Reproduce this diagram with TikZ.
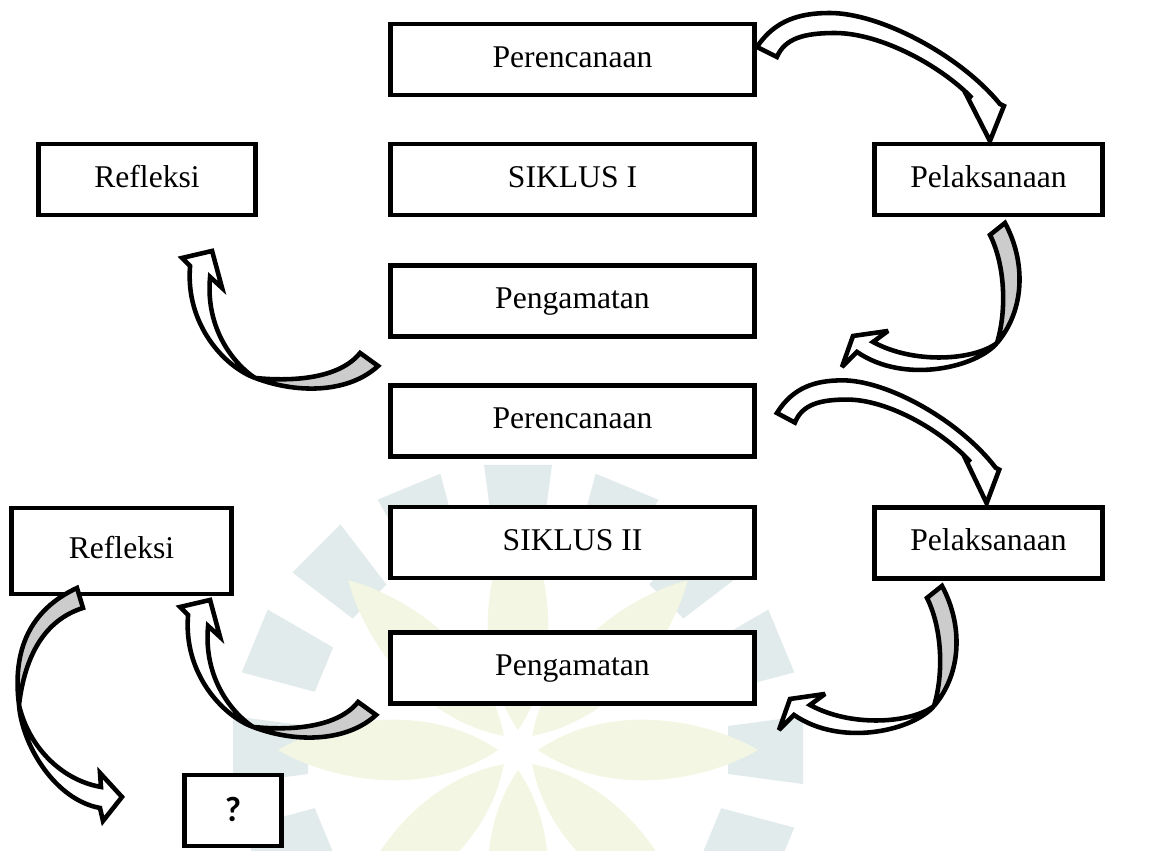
\documentclass[tikz,border=0pt]{standalone}
\usepackage{fontspec}
\setmainfont{Liberation Serif}
\newfontfamily\qmarkfont{Carlito}
\usetikzlibrary{calc}
\definecolor{wmBlue}{RGB}{226, 235, 235}
\definecolor{wmYellow}{RGB}{243, 246, 226}

\begin{document}
\begin{tikzpicture}[
        x=0.02cm, y=-0.02cm,
        box/.style={rectangle, draw, line width=2.8pt, fill=white, inner sep=0pt, minimum width=7.28cm, minimum height=1.42cm, text height=12pt, text depth=3pt, font=\fontsize{18}{21}\selectfont},
        band/.style={draw, line width=2.6pt, fill=white, line join=miter, miter limit=4},
        twist/.style={band, fill=gray!40}
    ]
        \useasboundingbox (0,0) rectangle (1161,851);

        % Faint logo in the background
        \foreach \a in {0,22.5,...,337.5} {
            \begin{scope}[shift={(518,750)}, rotate=\a]
                \fill[wmBlue] (210,-24) -- (285,-34) -- (285,34) -- (210,24) -- cycle;
            \end{scope}
        }
        \foreach \a in {0,45,...,315} {
            \begin{scope}[shift={(518,750)}, rotate=\a]
                \fill[wmYellow] (20,0) .. controls (90,-48) and (185,-32) .. (240,0) .. controls (185,32) and (90,48) .. (20,0) -- cycle;
            \end{scope}
        }

        % Siklus I
        \node[box] (per1) at (572.5,59.5) {Perencanaan};
        \node[box, minimum width=4.34cm] (ref1) at (147,179.5) {Refleksi};
        \node[box] (sik1) at (572.5,179.5) {SIKLUS I};
        \node[box, minimum width=4.56cm] (pel1) at (988.5,179.5) {Pelaksanaan};
        \node[box] (peng1) at (572.5,301) {Pengamatan};

        % Siklus II
        \node[box] (per2) at (572.5,421) {Perencanaan};
        \node[box, minimum width=4.4cm, minimum height=1.72cm] (ref2) at (121.5,551) {Refleksi};
        \node[box] (sik2) at (572.5,542.5) {SIKLUS II};
        \node[box, minimum width=4.56cm] (pel2) at (988.5,543) {Pelaksanaan};
        \node[box] (peng2) at (572.5,668) {Pengamatan};
        \node[box, minimum width=1.94cm, text height=12.5pt, text depth=0pt, font=\qmarkfont\bfseries\fontsize{20}{24}\selectfont] (tanya) at (233,810.5) {?};

        % Perencanaan -> Pelaksanaan
        \foreach \anc/\dx/\dy/\sx/\sy in {per1.east/0/-12.5/1/1, per2.east/20/-8/0.9/0.96} {
            \begin{scope}[shift={($(\anc)+(\dx,\dy)$)}, xscale=\sx, yscale=\sy]
                \draw[band] (0,0) .. controls (18,-27) and (43,-34) .. (73,-34) .. controls (123,-34) and (203,8) .. (243,57)
                    -- (247,59) -- (233,94) -- (209,47) -- (215,51)
                    .. controls (183,18) and (123,-14) .. (78,-14) .. controls (48,-14) and (28,-9) .. (20,10) -- cycle;
            \end{scope}
        }

        % Pelaksanaan -> Pengamatan
        \foreach \anc/\dx/\dy in {pel1.south/1.5/17.5, pel2.south/-61.5/17} {
            \begin{scope}[shift={($(\anc)+(\dx,\dy)$)}]
                \draw[twist] (0,0) -- (15,-12) .. controls (36,27) and (35,75) .. (7,108) .. controls (17,75) and (15,30) .. (0,0) -- cycle;
                \draw[band] (7,108) .. controls (-15,125) and (-75,130) .. (-117,107)
                    -- (-102,96) -- (-137,101) -- (-148,132) -- (-133,117)
                    .. controls (-85,150) and (-13,132) .. (7,108) -- cycle;
            \end{scope}
        }

        % Pengamatan -> Refleksi
        \foreach \anc/\dx/\dy in {peng1.south west/-28/14, peng2.south west/-30/-4} {
            \begin{scope}[shift={($(\anc)+(\dx,\dy)$)}]
                \draw[twist] (0,0) -- (18,13) .. controls (-10,39) and (-60,42) .. (-105,25) .. controls (-65,29) and (-20,25) .. (0,0) -- cycle;
                \draw[band] (-105,25) .. controls (-135,14) and (-175,-28) .. (-170,-87)
                    -- (-178,-95) -- (-148,-102) -- (-138,-65) -- (-150,-76)
                    .. controls (-155,-23) and (-125,12) .. (-105,25) -- cycle;
            \end{scope}
        }

        % Refleksi -> ?
        \begin{scope}[shift={($(ref2.south)+(-44.5,-8.5)$)}]
            \draw[twist] (0,0) .. controls (-47,22) and (-65,62) .. (-58,117) .. controls (-52,67) and (-32,32) .. (6,20) -- cycle;
            \draw[band] (-58,117) .. controls (-49,157) and (-17,192) .. (24,199)
                -- (23,185) -- (45,209) -- (26,233) -- (23,220)
                .. controls (-22,212) and (-55,157) .. (-58,117) -- cycle;
        \end{scope}
    \end{tikzpicture}
\end{document}
